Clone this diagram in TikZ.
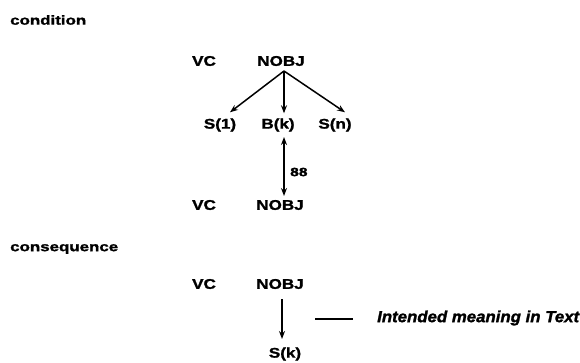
\documentclass[tikz,border=0pt]{standalone}
\usepackage{fontspec}
\newfontfamily\labfont[FakeStretch=1.22,FakeBold=1.5]{Liberation Sans}
\newfontfamily\headfont[FakeStretch=1.3,FakeBold=1.5]{Liberation Sans}
\newfontfamily\notefont[FakeStretch=1.05,FakeBold=1.5]{Liberation Sans}
\usetikzlibrary{arrows.meta,calc}
\tikzset{
  lab/.style={inner sep=0pt, font=\labfont\bfseries\fontsize{14}{14}\selectfont},
  head/.style={inner sep=0pt, anchor=west, font=\headfont\bfseries\fontsize{13}{13}\selectfont},
  note/.style={inner sep=0pt, anchor=west, font=\notefont\bfseries\itshape\fontsize{16}{16}\selectfont},
  arr/.style={line width=1.5pt, -{Stealth[length=8pt,width=6pt]}},
  darr/.style={line width=1.5pt, {Stealth[length=8pt,width=6pt]}-{Stealth[length=8pt,width=6pt]}},
}
\begin{document}
\begin{tikzpicture}[x=1pt,y=-1pt]
\useasboundingbox (0,0) rectangle (580,362);
% condition
\node[head] (cond) at (10,20) {condition};
\node[lab] (vc1) at (204,61) {VC};
\node[lab] (nobj1) at (281,61) {NOBJ};
\node[lab] (s1) at (220,125) {S(1)};
\node[lab] (bk) at (278,125) {B(k)};
\node[lab] (sn) at (335,125) {S(n)};
\coordinate (top1) at (284,71);
\draw[arr] (top1) -- ($(s1.north)+(10,-6)$);
\draw[arr] (top1) -- ($(bk.north)+(6,-5)$);
\draw[arr] (top1) -- ($(sn.north)+(10,-6)$);
\node[lab] (vc2) at (204,205) {VC};
\node[lab] (nobj2) at (280,205) {NOBJ};
\coordinate (da1) at (284,137);
\coordinate (da2) at (284,196);
\draw[darr] (da1) -- (da2);
\node[inner sep=0pt, anchor=west, font=\headfont\bfseries\fontsize{12}{12}\selectfont] (lab88) at (290,172) {88};
% consequence
\node[head] (cons) at (10,249) {consequence};
\node[lab] (vc3) at (204,284) {VC};
\node[lab] (nobj3) at (280,284) {NOBJ};
\node[lab] (sk) at (285,354) {S(k)};
\coordinate (a3) at (282,299);
\coordinate (b3) at (282,339);
\draw[arr] (a3) -- (b3);
\node[note] (mean) at (377,318) {Intended meaning in Text};
\coordinate (l1) at (315,319);
\draw[line width=1.5pt] (l1) -- ($(mean.west)+(-24,1)$);
\end{tikzpicture}
\end{document}
